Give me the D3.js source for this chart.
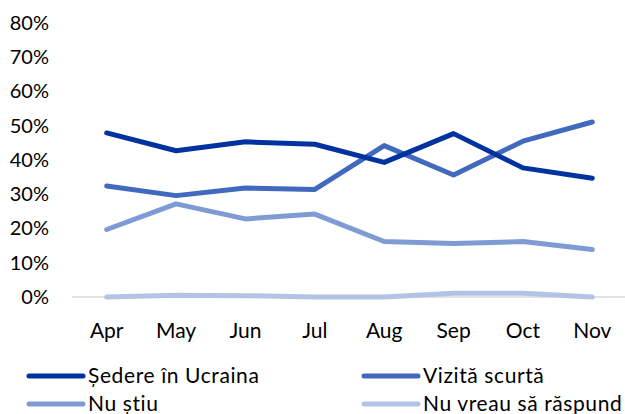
<!DOCTYPE html>
<html>
<head>
<meta charset="utf-8">
<script src="https://cdn.jsdelivr.net/npm/d3@7"></script>
<style>
  body { margin: 0; background: #fff; }
  svg text { font-family: Lato, "Open Sans", sans-serif; fill: #000; }
</style>
</head>
<body>
<svg id="chart" width="625" height="414"></svg>
<script>
// chart data
var months = ["Apr", "May", "Jun", "Jul", "Aug", "Sep", "Oct", "Nov"];
var yTicks = [0, 10, 20, 30, 40, 50, 60, 70, 80];
var seriesNames = ["Ședere în Ucraina", "Vizită scurtă", "Nu știu", "Nu vreau să răspund"];
var sedere = [47.9, 42.7, 45.3, 44.6, 39.3, 47.7, 37.7, 34.7];
var vizita = [32.4, 29.6, 31.8, 31.4, 44.2, 35.6, 45.5, 51.1];
var nuStiu = [19.7, 27.2, 22.8, 24.2, 16.2, 15.6, 16.2, 13.9];
var nuVreau = [0.0, 0.5, 0.4, 0.0, 0.0, 1.1, 1.1, 0.0];
var colors = ["#0033a0", "#4169bf", "#7f9bd4", "#b3c3e6"];

var series = [sedere, vizita, nuStiu, nuVreau];

var svg = d3.select("#chart");

var x = d3.scaleBand().domain(months).range([72, 627]);
var y = d3.scaleLinear().domain([0, 80]).range([297, 23]);

// y axis labels
var yAxis = svg.append("g")
  .attr("transform", "translate(49,0)")
  .call(d3.axisLeft(y).tickValues(yTicks).tickSize(0).tickPadding(0)
    .tickFormat(function(d) { return d + "%"; }));
yAxis.select(".domain").remove();
yAxis.selectAll("text").style("font-size", "20px");

// x axis labels
var xAxis = svg.append("g")
  .attr("transform", "translate(0,323)")
  .call(d3.axisBottom(x).tickSize(0).tickPadding(0));
xAxis.select(".domain").remove();
xAxis.selectAll("text").style("font-size", "21px");

// baseline
svg.append("line")
  .attr("x1", x.range()[0]).attr("x2", x.range()[1])
  .attr("y1", y(0)).attr("y2", y(0))
  .attr("stroke", "#d9d9d9").attr("stroke-width", 1.5);

var line = d3.line()
  .x(function(d, i) { return x(months[i]) + x.bandwidth() / 2; })
  .y(function(d) { return y(d); });

// draw lightest first so darker lines sit on top
for (var k = series.length - 1; k >= 0; k--) {
  svg.append("path")
    .datum(series[k])
    .attr("fill", "none")
    .attr("stroke", colors[k])
    .attr("stroke-width", 5)
    .attr("stroke-linecap", "round")
    .attr("stroke-linejoin", "round")
    .attr("d", line);
}

// legend
var legend = svg.append("g");
seriesNames.forEach(function(name, i) {
  var lx = i % 2 === 0 ? 29 : 364;
  var ly = i < 2 ? 376 : 404;
  legend.append("line")
    .attr("x1", lx).attr("x2", lx + 54)
    .attr("y1", ly).attr("y2", ly)
    .attr("stroke", colors[i]).attr("stroke-width", 5)
    .attr("stroke-linecap", "round");
  legend.append("text")
    .attr("x", lx + 59).attr("y", ly + 7)
    .style("font-size", "21px")
    .style("letter-spacing", "0.6px")
    .text(name);
});
</script>
</body>
</html>
